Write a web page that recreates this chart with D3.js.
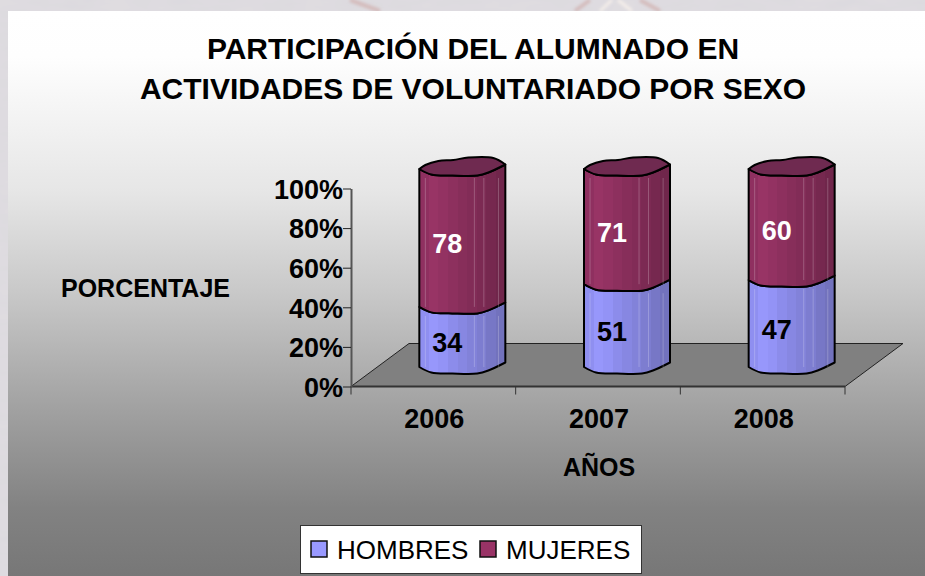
<!DOCTYPE html>
<html>
<head>
<meta charset="utf-8">
<script src="https://cdnjs.cloudflare.com/ajax/libs/d3/7.8.5/d3.min.js"></script>
<style>
html, body { margin: 0; padding: 0; background: #dcdadf; }
svg { display: block; }
text { font-family: "Liberation Sans", Arial, sans-serif; fill: #000; }
.b { font-weight: bold; }
</style>
</head>
<body>
<div id="chart"></div>
<script>
// data
var years = ["2006", "2007", "2008"];
var hombres = [34, 51, 47];
var mujeres = [78, 71, 60];
var seriesNames = ["HOMBRES", "MUJERES"];
var yTicks = [0, 0.2, 0.4, 0.6, 0.8, 1];

var width = 925, height = 576;
var plot = { left: 351, right: 845, top: 188.5, bottom: 386.5 };
var depth = { x: 58, y: -43 };
var barWidth = 86, barOffset = { x: 29, y: -19.5 };

// wobbly section of the "cylinder", relative to its left edge centre line
var frontArc = [[-43, 0], [-31, 5.5], [-10, 6.5], [15, 6.5], [26, 3.5], [43, -4.5]];
var backArc = [[43, -4.5], [31, -11], [6, -11.5], [-9, -9], [-24, -8], [-37, -4], [-43, 0]];

var table = years.map(function(y, i) {
    return { year: y, HOMBRES: hombres[i], MUJERES: mujeres[i] };
});
var stacked = d3.stack().keys(seriesNames).offset(d3.stackOffsetExpand)(table);

var x = d3.scaleBand().domain(years).range([plot.left, plot.right]);
var y = d3.scaleLinear().domain([0, 1]).range([plot.bottom, plot.top]);

var svg = d3.select("#chart").append("svg")
    .attr("width", width)
    .attr("height", height);
var defs = svg.append("defs");

// backdrop picture behind the panel
var noise = defs.append("filter").attr("id", "noise").attr("x", 0).attr("y", 0).attr("width", 1).attr("height", 1);
noise.append("feTurbulence").attr("type", "fractalNoise").attr("baseFrequency", "0.03 0.09").attr("numOctaves", 3).attr("seed", 4);
noise.append("feColorMatrix").attr("values", "0 0 0 0 0.78  0 0 0 0 0.74  0 0 0 0 0.76  0.6 0 0 0 -0.1");
defs.append("filter").attr("id", "soft").append("feGaussianBlur").attr("stdDeviation", 1.6);

svg.append("rect").attr("width", width).attr("height", height).attr("fill", "#dcdadf");
svg.append("rect").attr("width", width).attr("height", height).attr("filter", "url(#noise)");
svg.append("path").attr("d", "M350,0L380,11M590,0L575,11M640,0L660,11")
    .attr("stroke", "#d4bcbc").attr("stroke-width", 4).attr("fill", "none").attr("filter", "url(#soft)");
svg.append("path").attr("d", "M612,0L600,11M618,0L632,11")
    .attr("stroke", "#f4eeea").attr("stroke-width", 3).attr("fill", "none").attr("filter", "url(#soft)");

// panel gradient
var panelGrad = defs.append("linearGradient").attr("id", "panel").attr("x1", 0).attr("y1", 0).attr("x2", 0).attr("y2", 1);
[[0, "#ffffff"], [0.08, "#fefefe"], [0.32, "#e6e6e6"], [0.5, "#c8c8c8"], [0.7, "#a2a2a2"], [0.88, "#828282"], [1, "#777777"]].forEach(function(s) {
    panelGrad.append("stop").attr("offset", s[0]).attr("stop-color", s[1]);
});
svg.append("rect").attr("x", 8).attr("y", 11).attr("width", width - 8).attr("height", height - 11).attr("fill", "url(#panel)");

// facet shading, hard stops like the flat strips of the original
function facetGradient(id, colors) {
    var g = defs.append("linearGradient").attr("id", id).attr("x1", 0).attr("y1", 0).attr("x2", 1).attr("y2", 0);
    colors.forEach(function(c, i) {
        g.append("stop").attr("offset", i / colors.length).attr("stop-color", c);
        g.append("stop").attr("offset", (i + 1) / colors.length).attr("stop-color", c);
    });
}
facetGradient("grad-HOMBRES", ["#8f8ff0", "#9797fb", "#9393f6", "#8c8ceb", "#8787e2", "#8282d9", "#7d7dd0", "#7777c6", "#7272bd"]);
facetGradient("grad-MUJERES", ["#8f3060", "#983465", "#933262", "#8d305e", "#872e5a", "#822c57", "#7c2a53", "#76284f", "#70264b"]);

var title = svg.append("text").attr("class", "b").attr("text-anchor", "middle").style("font-size", "30px");
title.append("tspan").attr("x", 473).attr("y", 59).text("PARTICIPACIÓN DEL ALUMNADO EN");
title.append("tspan").attr("x", 473).attr("y", 99).text("ACTIVIDADES DE VOLUNTARIADO POR SEXO");

// floor
svg.append("path")
    .attr("d", d3.line()([
        [plot.left, plot.bottom],
        [plot.left + depth.x, plot.bottom + depth.y],
        [plot.right + depth.x, plot.bottom + depth.y],
        [plot.right, plot.bottom]
    ]) + "Z")
    .attr("fill", "#808080")
    .attr("stroke", "#222")
    .attr("stroke-width", 1);
svg.append("line")
    .attr("x1", plot.left).attr("x2", plot.right)
    .attr("y1", plot.bottom).attr("y2", plot.bottom)
    .attr("stroke", "#333").attr("stroke-width", 2);

// y axis
var yAxis = svg.append("g")
    .attr("transform", "translate(" + plot.left + ",0)")
    .call(d3.axisLeft(y).tickValues(yTicks).tickFormat(d3.format(".0%")).tickSize(8).tickSizeOuter(0));
yAxis.select(".domain").attr("stroke", "#555").attr("stroke-width", 2);
yAxis.selectAll(".tick line").attr("stroke", "#222");
yAxis.selectAll(".tick text").attr("class", "b").attr("x", -8).attr("dy", "0.36em")
    .style("font-size", "27px").style("font-family", "'Liberation Sans', Arial, sans-serif").attr("fill", "#000");

// x axis, ticks sit between the categories
svg.selectAll(".xtick").data(d3.range(years.length + 1)).enter().append("line")
    .attr("class", "xtick")
    .attr("x1", function(i) { return plot.left + i * x.step(); })
    .attr("x2", function(i) { return plot.left + i * x.step(); })
    .attr("y1", plot.bottom).attr("y2", plot.bottom + 8)
    .attr("stroke", "#333");
svg.selectAll(".xlabel").data(years).enter().append("text")
    .attr("class", "xlabel b")
    .attr("text-anchor", "middle")
    .attr("x", function(d) { return x(d) + x.bandwidth() / 2 + 1; })
    .attr("y", 428)
    .style("font-size", "27px")
    .text(function(d) { return d; });

svg.append("text").attr("class", "b").attr("text-anchor", "middle").attr("x", 599).attr("y", 476).style("font-size", "25px").text("AÑOS");
svg.append("text").attr("class", "b").attr("x", 61).attr("y", 297).style("font-size", "25px").text("PORCENTAJE");

// bars
var curve = d3.line().curve(d3.curveCatmullRom.alpha(0.5));

function place(points, cx, cy) {
    return points.map(function(p) { return [cx + p[0], cy + p[1]]; });
}

function barCx(d) { return x(d) + x.bandwidth() / 2 + barOffset.x; }
function barY(v) { return y(v) + barOffset.y; }

function sidePath(cx, y0, y1) {
    var lower = curve(place(frontArc, cx, y0));
    var upper = curve(place(frontArc.slice().reverse(), cx, y1));
    return lower + "L" + upper.slice(1) + "Z";
}

var lineColor = "#000";
var labelColor = { HOMBRES: "#000", MUJERES: "#fff" };
var strips = [0.07, 0.64, 0.75, 0.92];

stacked.forEach(function(serie) {
    var g = svg.append("g").attr("class", "serie");
    g.selectAll("path.side").data(serie).enter().append("path")
        .attr("class", "side")
        .attr("d", function(d) { return sidePath(barCx(d.data.year), barY(d[0]), barY(d[1])); })
        .attr("fill", "url(#grad-" + serie.key + ")")
        .attr("stroke", lineColor)
        .attr("stroke-width", 2)
        .attr("stroke-linejoin", "round");

    // thin light seams down the side
    strips.forEach(function(s) {
        g.selectAll(null).data(serie).enter().append("line")
            .attr("x1", function(d) { return barCx(d.data.year) - barWidth / 2 + s * barWidth; })
            .attr("x2", function(d) { return barCx(d.data.year) - barWidth / 2 + s * barWidth; })
            .attr("y1", function(d) { return barY(d[1]) + 9; })
            .attr("y2", function(d) { return barY(d[0]); })
            .attr("stroke", "#fff").attr("stroke-opacity", 0.22);
    });
});

// top caps
var topSerie = stacked[stacked.length - 1];
svg.selectAll("path.cap").data(topSerie).enter().append("path")
    .attr("class", "cap")
    .attr("d", function(d) {
        var cx = barCx(d.data.year), cy = barY(d[1]);
        return curve(place(frontArc, cx, cy)) + "L" + curve(place(backArc, cx, cy)).slice(1) + "Z";
    })
    .attr("fill", "#6f2a50")
    .attr("stroke", lineColor)
    .attr("stroke-width", 2)
    .attr("stroke-linejoin", "round");

// value labels
stacked.forEach(function(serie) {
    svg.selectAll(null).data(serie).enter().append("text")
        .attr("class", "b")
        .attr("text-anchor", "middle")
        .attr("x", function(d) { return barCx(d.data.year) - 15; })
        .attr("y", function(d) { return barY((d[0] + d[1]) / 2) + 15.5; })
        .style("font-size", "27px")
        .style("fill", labelColor[serie.key])
        .text(function(d) { return d.data[serie.key]; });
});

// legend
var legend = svg.append("g");
legend.append("rect").attr("x", 300.5).attr("y", 525.5).attr("width", 341).attr("height", 48)
    .attr("fill", "#fff").attr("stroke", "#333");
var legendX = { HOMBRES: 311, MUJERES: 480 };
var legendFill = { HOMBRES: "#9999ff", MUJERES: "#993366" };
seriesNames.forEach(function(name) {
    legend.append("rect").attr("x", legendX[name]).attr("y", 541).attr("width", 16).attr("height", 16)
        .attr("fill", legendFill[name]).attr("stroke", "#111").attr("stroke-width", 1.5);
    legend.append("text").attr("x", legendX[name] + 26).attr("y", 559).style("font-size", "26px").text(name);
});
</script>
</body>
</html>
